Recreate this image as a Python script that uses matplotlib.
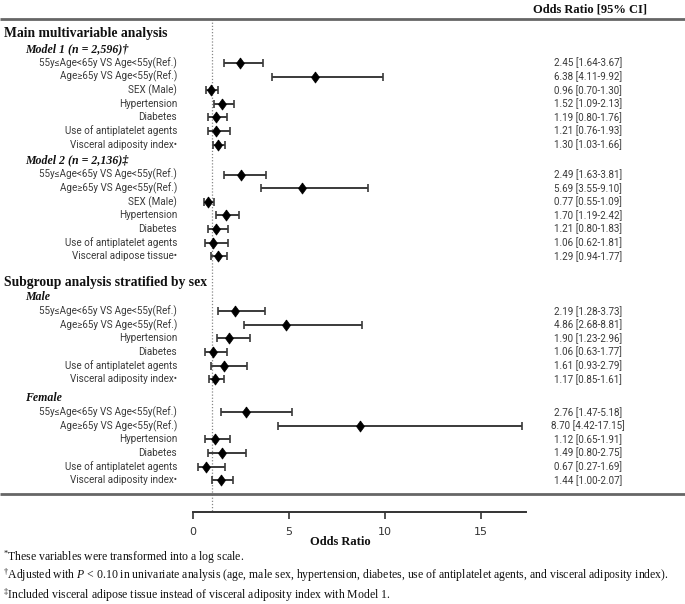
import matplotlib
matplotlib.use("Agg")
import matplotlib.pyplot as plt

# ---------------- data ----------------
labels_m1 = ["55y\u2264Age<65y VS Age<55y(Ref.)", "Age\u226565y VS Age<55y(Ref.)", "SEX (Male)",
             "Hypertension", "Diabetes", "Use of antiplatelet agents", "Visceral adiposity index\u2022"]
or_m1 = [2.45, 6.38, 0.96, 1.52, 1.19, 1.21, 1.30]
lo_m1 = [1.64, 4.11, 0.70, 1.09, 0.80, 0.76, 1.03]
hi_m1 = [3.67, 9.92, 1.30, 2.13, 1.76, 1.93, 1.66]

labels_m2 = ["55y\u2264Age<65y VS Age<55y(Ref.)", "Age\u226565y VS Age<55y(Ref.)", "SEX (Male)",
             "Hypertension", "Diabetes", "Use of antiplatelet agents", "Visceral adipose tissue\u2022"]
or_m2 = [2.49, 5.69, 0.77, 1.70, 1.21, 1.06, 1.29]
lo_m2 = [1.63, 3.55, 0.55, 1.19, 0.80, 0.62, 0.94]
hi_m2 = [3.81, 9.10, 1.09, 2.42, 1.83, 1.81, 1.77]

labels_sex = ["55y\u2264Age<65y VS Age<55y(Ref.)", "Age\u226565y VS Age<55y(Ref.)",
              "Hypertension", "Diabetes", "Use of antiplatelet agents", "Visceral adiposity index\u2022"]
or_male = [2.19, 4.86, 1.90, 1.06, 1.61, 1.17]
lo_male = [1.28, 2.68, 1.23, 0.63, 0.93, 0.85]
hi_male = [3.73, 8.81, 2.96, 1.77, 2.79, 1.61]

or_female = [2.76, 8.70, 1.12, 1.49, 0.67, 1.44]
lo_female = [1.47, 4.42, 0.65, 0.80, 0.27, 1.00]
hi_female = [5.18, 17.15, 1.91, 2.75, 1.69, 2.07]

section_titles = ["Main multivariable analysis", "Subgroup analysis stratified by sex"]
group_titles = ["Model 1 (n = 2,596)\u2020", "Model 2 (n = 2,136)\u2021", "Male", "Female"]
x_ticks = [0, 5, 10, 15]
header = "Odds Ratio [95% CI]"
xlabel = "Odds Ratio"
footnotes = [r"$^{*}$These variables were transformed into a log scale.",
             r"$^{\dagger}$Adjusted with $P$ < 0.10 in univariate analysis (age, male sex, hypertension, diabetes, use of antiplatelet agents, and visceral adiposity index).",
             r"$^{\ddagger}$Included visceral adipose tissue instead of visceral adiposity index with Model 1."]

groups = [
    (section_titles[0], group_titles[0], labels_m1, or_m1, lo_m1, hi_m1),
    (None, group_titles[1], labels_m2, or_m2, lo_m2, hi_m2),
    (section_titles[1], group_titles[2], labels_sex, or_male, lo_male, hi_male),
    (None, group_titles[3], labels_sex, or_female, lo_female, hi_female),
]

# ---------------- layout (pixels) ----------------
W, H = 685, 604
X0 = 193.0          # pixel of OR = 0
PPU = 19.2          # pixels per OR unit
AX_END = 526.0
LABEL_RIGHT = 177
VALUE_CENTER = 588
ROW_STEP = 13.6
gap_before_group = [16, 16, 15, 19]
gap_before_section = {0: 33, 2: 26}

plt.rcParams["mathtext.fontset"] = "custom"
plt.rcParams["mathtext.rm"] = "Liberation Serif"
plt.rcParams["mathtext.it"] = "Liberation Serif:italic"
plt.rcParams["mathtext.bf"] = "Liberation Serif:bold"

fig = plt.figure(figsize=(W / 100, H / 100), dpi=100)
ax = fig.add_axes([0, 0, 1, 1])
ax.set_xlim(-X0 / PPU, (W - X0) / PPU)
ax.set_ylim(H, 0)
ax.axis("off")


def px(p):
    return (p - X0) / PPU


serif = "Liberation Serif"
sans = ["Roboto", "Noto Sans", "DejaVu Sans"]
txt_col = "#3a3a3a"
diamond = [(0, 1), (0.72, 0), (0, -1), (-0.72, 0), (0, 1)]

y = 0
for gi, (sec, gt, labs, ors, los, his) in enumerate(groups):
    if sec is not None:
        y += gap_before_section[gi]
        ax.text(px(4), y, sec, fontfamily=serif, fontweight="bold", fontsize=9.8,
                ha="left", va="center", color="#111111")
        y += 16 if gi == 0 else 15
    else:
        y += gap_before_group[gi]
    ax.text(px(25), y, gt, fontfamily=serif, fontweight="bold", fontstyle="italic",
            fontsize=8.6, ha="left", va="center", color="#111111")
    y += 14
    for i, (lab, o, lo, hi) in enumerate(zip(labs, ors, los, his)):
        if i > 0:
            y += ROW_STEP
        ax.text(px(LABEL_RIGHT), y, lab, fontfamily=sans, fontsize=7.1,
                ha="right", va="center", color=txt_col)
        ax.text(px(VALUE_CENTER), y, f"{o:.2f} [{lo:.2f}-{hi:.2f}]", fontfamily=sans,
                fontsize=7.1, ha="center", va="center", color=txt_col)
        ax.errorbar([o], [y], xerr=[[o - lo], [hi - o]], fmt="none", ecolor="#3a3a3a",
                    elinewidth=1.4, capsize=3, capthick=1.2, zorder=3)
        ax.plot([o], [y], marker=diamond, ms=8, color="black", mec="black", mew=0.5,
                zorder=4)

# horizontal rules
ax.plot([px(0), px(W)], [19, 19], color="#666666", lw=2, solid_capstyle="butt")
ax.plot([px(0), px(W)], [494, 494], color="#666666", lw=2, solid_capstyle="butt")
# reference line at OR = 1
ax.plot([1, 1], [19, 511], color="#888888", lw=0.9, ls=(0, (1, 1.5)), zorder=1)

# header
ax.text(px(590), 9, header, fontfamily=serif, fontweight="bold", fontsize=9,
        ha="center", va="center", color="#111111")

# x axis
ax2 = fig.add_axes([X0 / W, (H - 512) / H, (AX_END - X0) / W, 0.0001])
ax2.set_xlim(0, (AX_END - X0) / PPU)
ax2.set_ylim(0, 1)
for s in ["top", "left", "right"]:
    ax2.spines[s].set_visible(False)
ax2.spines["bottom"].set_linewidth(1.4)
ax2.spines["bottom"].set_color("#333333")
ax2.set_yticks([])
ax2.set_xticks(x_ticks)
ax2.set_xticklabels([str(t) for t in x_ticks])
ax2.tick_params(axis="x", direction="out", length=5, width=1.2, color="#333333",
                labelsize=8, labelcolor="#333333", pad=6)
for t in ax2.get_xticklabels():
    t.set_fontfamily(["Liberation Sans Narrow", "DejaVu Sans"])
ax2.patch.set_visible(False)

ax.text(px(340), 542, xlabel, fontfamily=serif, fontweight="bold", fontsize=9,
        ha="center", va="center", color="#111111")

for fy, ft in zip([557, 575, 595], footnotes):
    ax.text(px(3), fy, ft, fontfamily=serif, fontsize=8.5, ha="left", va="center",
            color="#111111")

fig.savefig("out.png", dpi=100)
